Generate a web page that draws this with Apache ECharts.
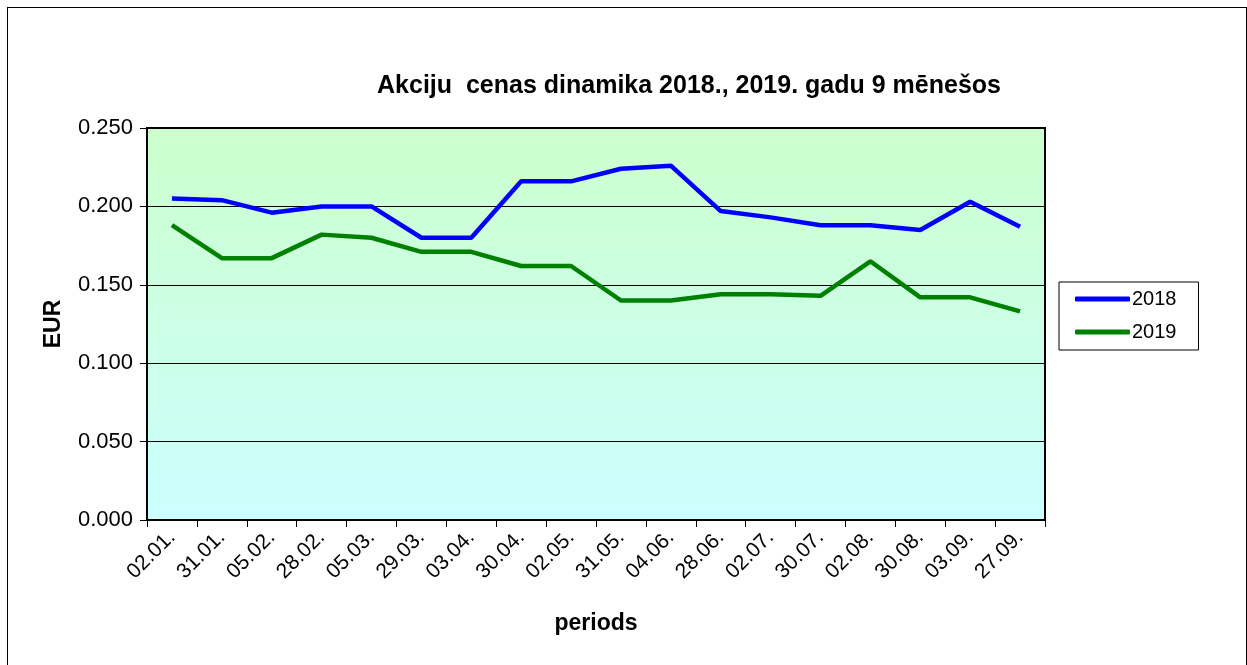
<!DOCTYPE html>
<html>
<head>
<meta charset="utf-8">
<script src="https://cdn.jsdelivr.net/npm/echarts@6/dist/echarts.min.js"></script>
<style>
  html, body { margin: 0; padding: 0; background: #fff; }
  #frame { position: absolute; left: 7px; top: 7px; width: 1240px; height: 670px; border: 1px solid #000; box-sizing: border-box; }
  #chart { position: absolute; left: 0; top: 0; width: 1247px; height: 665px; }
</style>
</head>
<body>
<div id="frame"></div>
<div id="chart"></div>
<script>
const periods = ['02.01.', '31.01.', '05.02.', '28.02.', '05.03.', '29.03.', '03.04.', '30.04.', '02.05.',
    '31.05.', '04.06.', '28.06.', '02.07.', '30.07.', '02.08.', '30.08.', '03.09.', '27.09.'];
const values2018 = [0.205, 0.204, 0.196, 0.200, 0.200, 0.180, 0.180, 0.216, 0.216,
    0.224, 0.226, 0.197, 0.193, 0.188, 0.188, 0.185, 0.203, 0.187];
const values2019 = [0.188, 0.167, 0.167, 0.182, 0.180, 0.171, 0.171, 0.162, 0.162,
    0.140, 0.140, 0.144, 0.144, 0.143, 0.165, 0.142, 0.142, 0.133];

const myChart = echarts.init(document.getElementById('chart'));
const font = 'Liberation Sans, Arial, sans-serif';

const option = {
    animation: false,
    title: {
        text: 'Akciju  cenas dinamika 2018., 2019. gadu 9 mēnešos',
        left: 684,
        top: 69,
        textAlign: 'center',
        textStyle: { fontFamily: font, fontSize: 25, fontWeight: 'bold', color: '#000' }
    },
    legend: {
        orient: 'vertical',
        left: 1059,
        top: 282,
        padding: [7, 22, 8, 16],
        itemGap: 13,
        itemWidth: 55,
        itemHeight: 5,
        icon: 'roundRect',
        borderColor: '#000',
        borderWidth: 1,
        backgroundColor: '#fff',
        textStyle: { fontFamily: font, fontSize: 20, color: '#000', padding: [0, 0, 0, -3] },
        data: ['2018', '2019']
    },
    grid: {
        left: 147,
        top: 128,
        width: 898,
        height: 392,
        show: true,
        borderColor: '#000',
        borderWidth: 2,
        backgroundColor: new echarts.graphic.LinearGradient(0, 0, 0, 1, [
            { offset: 0, color: '#ccffcc' },
            { offset: 1, color: '#ccffff' }
        ])
    },
    xAxis: {
        type: 'category',
        data: periods,
        boundaryGap: true,
        name: 'periods',
        nameLocation: 'middle',
        nameGap: 92,
        nameTextStyle: { fontFamily: font, fontSize: 23, fontWeight: 'bold', color: '#000' },
        axisLine: { lineStyle: { color: '#000', width: 2 } },
        axisTick: { show: true, alignWithLabel: false, length: 7, lineStyle: { color: '#000' } },
        axisLabel: { rotate: 45, margin: 14, fontFamily: font, fontSize: 21, color: '#000', interval: 0 },
        splitLine: { show: false }
    },
    yAxis: {
        type: 'value',
        min: 0,
        max: 0.25,
        interval: 0.05,
        name: 'EUR',
        nameLocation: 'middle',
        nameGap: 82,
        nameRotate: 90,
        nameTextStyle: { fontFamily: font, fontSize: 23, fontWeight: 'bold', color: '#000' },
        axisLine: { show: true, lineStyle: { color: '#000', width: 2 } },
        axisTick: { show: true, length: 7, lineStyle: { color: '#000' } },
        axisLabel: {
            fontFamily: font, fontSize: 22, color: '#000', margin: 14,
            formatter: v => v.toFixed(3)
        },
        splitLine: { show: true, lineStyle: { color: '#000', width: 1 } }
    },
    series: [
        {
            name: '2018',
            type: 'line',
            data: values2018,
            symbol: 'none',
            lineStyle: { color: '#0000ff', width: 4.5 },
            itemStyle: { color: '#0000ff' }
        },
        {
            name: '2019',
            type: 'line',
            data: values2019,
            symbol: 'none',
            lineStyle: { color: '#008000', width: 4.5 },
            itemStyle: { color: '#008000' }
        }
    ]
};

myChart.setOption(option);
window.addEventListener('resize', myChart.resize);
</script>
</body>
</html>
